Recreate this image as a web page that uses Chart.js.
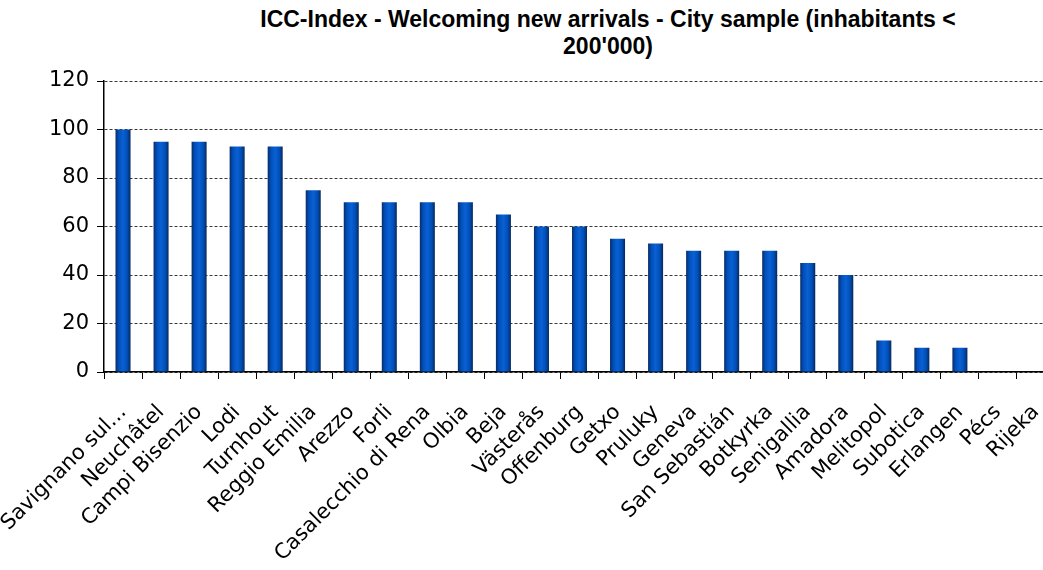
<!DOCTYPE html>
<html>
<head>
<meta charset="utf-8">
<script src="https://cdn.jsdelivr.net/npm/chart.js@4/dist/chart.umd.min.js"></script>
<style>
  html, body { margin: 0; padding: 0; background: #fff; overflow: hidden; width: 1043px; height: 570px; }
  #title {
    position: absolute; left: 0; top: 6px; width: 1216px;
    text-align: center; font: bold 23px "Liberation Sans", Arial, sans-serif;
    line-height: 27px; color: #000;
  }
  #chart { position: absolute; left: 0; top: 0; }
</style>
</head>
<body>
<div id="title">ICC-Index - Welcoming new arrivals - City sample (inhabitants &lt;<br>200'000)</div>
<canvas id="chart" width="1060" height="570"></canvas>
<script>
const cities = [
    "Savignano sul...", "Neuchâtel", "Campi Bisenzio", "Lodi", "Turnhout",
    "Reggio Emilia", "Arezzo", "Forli", "Casalecchio di Rena", "Olbia",
    "Beja", "Västerås", "Offenburg", "Getxo", "Pruluky",
    "Geneva", "San Sebastián", "Botkyrka", "Senigallia", "Amadora",
    "Melitopol", "Subotica", "Erlangen", "Pécs", "Rijeka"
];
const scores = [
    100, 95, 95, 93, 93,
    75, 70, 70, 70, 70,
    65, 60, 60, 55, 53,
    50, 50, 50, 45, 40,
    13, 10, 10, 0, 0
];
const yTicks = [0, 20, 40, 60, 80, 100, 120];

const axisFont = { family: "'DejaVu Sans', sans-serif", size: 21 };
const BAR_W = 15;

// shaded column: dark edges, bright middle
function barFill(c) {
    const chart = c.chart;
    const x = chart.scales && chart.scales.x;
    if (!x || c.dataIndex === undefined) return "#0055c4";
    const cx = x.getPixelForValue(c.dataIndex);
    if (!isFinite(cx)) return "#0055c4";
    const g = chart.ctx.createLinearGradient(cx - BAR_W / 2, 0, cx + BAR_W / 2, 0);
    g.addColorStop(0, "#0a2c66");
    g.addColorStop(0.22, "#0050bb");
    g.addColorStop(0.5, "#0a60d4");
    g.addColorStop(0.78, "#004fb6");
    g.addColorStop(1, "#08285c");
    return g;
}

const ctx = document.getElementById("chart").getContext("2d");
new Chart(ctx, {
    type: "bar",
    data: {
        labels: cities,
        datasets: [{
            data: scores,
            backgroundColor: barFill,
            borderWidth: 0,
            barPercentage: 0.395,
            categoryPercentage: 1
        }]
    },
    options: {
        responsive: false,
        animation: false,
        layout: { padding: { top: 81, right: 5, left: 0, bottom: 0 } },
        plugins: {
            legend: { display: false },
            title: { display: false },
            tooltip: { enabled: false }
        },
        scales: {
            x: {
                grid: {
                    offset: true,
                    drawOnChartArea: false,
                    drawTicks: true,
                    tickLength: 7,
                    tickColor: "#000"
                },
                border: { color: "#000", width: 1.5 },
                ticks: {
                    color: "#000",
                    font: axisFont,
                    autoSkip: false,
                    maxRotation: 45,
                    minRotation: 45,
                    labelOffset: 0,
                    padding: 21
                },
                // rotated labels may hang past the plot edges; keep the plot where it is
                afterFit: scale => {
                    scale.height = 198;
                    scale.paddingLeft = 0;
                    scale.paddingRight = 0;
                }
            },
            y: {
                min: 0,
                max: 120,
                afterBuildTicks: scale => {
                    scale.ticks = yTicks.map(v => ({ value: v }));
                },
                grid: {
                    color: "#3a3a3a",
                    tickBorderDash: [],
                    tickColor: "#000",
                    tickLength: 7,
                    lineWidth: 1
                },
                border: { color: "#000", width: 1.5, dash: [3, 2] },
                ticks: {
                    color: "#000",
                    font: axisFont,
                    padding: 8
                },
                afterFit: scale => { scale.width = 104; }
            }
        }
    }
});
</script>
</body>
</html>
